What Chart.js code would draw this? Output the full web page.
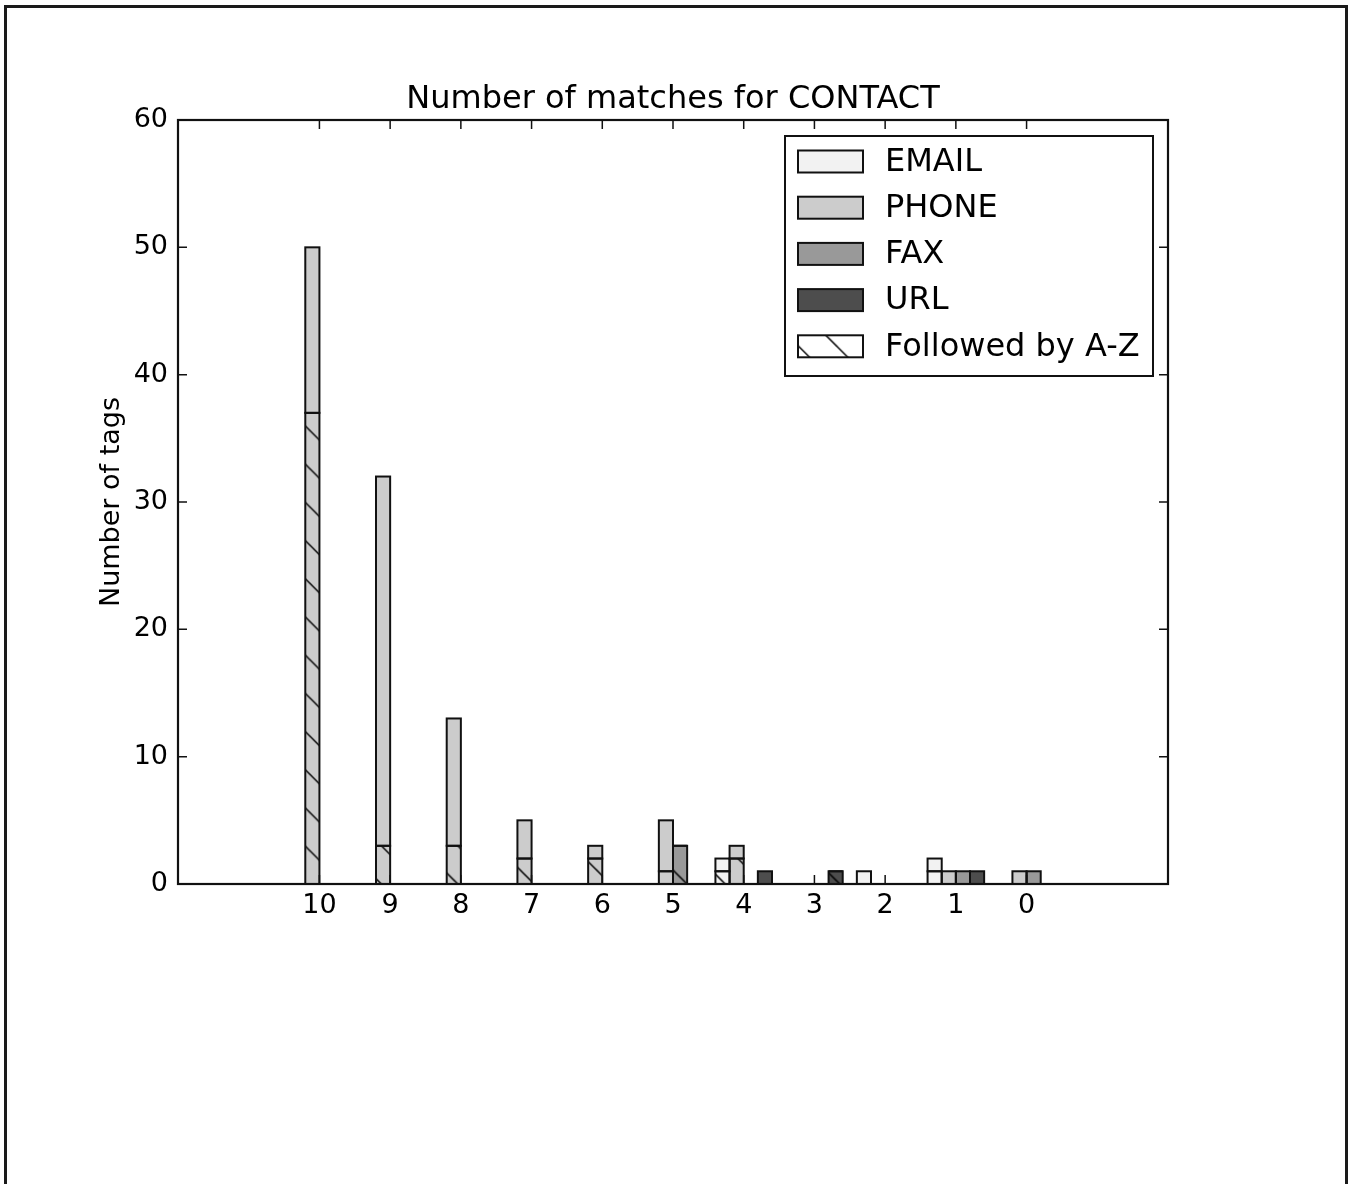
<!DOCTYPE html>
<html>
<head>
<meta charset="utf-8">
<title>Number of matches for CONTACT</title>
<script src="https://cdn.jsdelivr.net/npm/chart.js@4.4.1/dist/chart.umd.min.js"></script>
<style>
  html, body { margin: 0; padding: 0; background: #fff; }
  #wrap { position: absolute; left: 0; top: 0; width: 1355px; height: 1184px; }
  #frame {
    position: absolute; left: 4px; top: 5px; width: 1338px; height: 1200px;
    border: 3px solid #1a1a1a; border-bottom: none; pointer-events: none;
  }
</style>
</head>
<body>
<div id="wrap"><canvas id="chart"></canvas></div>
<div id="frame"></div>
<script>
// x categories (score buckets, highest first)
const categories = ['10', '9', '8', '7', '6', '5', '4', '3', '2', '1', '0'];
const yTicks = [0, 10, 20, 30, 40, 50, 60];

// total tags per bucket
const emailTotal = [0, 0, 0, 0, 0, 0, 2, 0, 1, 2, 0];
const phoneTotal = [50, 32, 13, 5, 3, 5, 3, 0, 0, 1, 1];
const faxTotal   = [0, 0, 0, 0, 0, 3, 0, 0, 0, 1, 1];
const urlTotal   = [0, 0, 0, 0, 0, 0, 1, 1, 0, 1, 0];

// of those, tags followed by A-Z (hatched part)
const emailAZ = [0, 0, 0, 0, 0, 0, 1, 0, 0, 1, 0];
const phoneAZ = [37, 3, 3, 2, 2, 1, 2, 0, 0, 0, 0];
const faxAZ   = [0, 0, 0, 0, 0, 3, 0, 0, 0, 0, 0];
const urlAZ   = [0, 0, 0, 0, 0, 0, 0, 1, 0, 0, 0];

const seriesNames = ['EMAIL', 'PHONE', 'FAX', 'URL'];
const seriesColors = ['#f2f2f2', '#cccccc', '#999999', '#4d4d4d'];
const hatchLabel = 'Followed by A-Z';

const totals = [emailTotal, phoneTotal, faxTotal, urlTotal];
const followed = [emailAZ, phoneAZ, faxAZ, urlAZ];

const FONT = "'DejaVu Sans', 'Liberation Sans', sans-serif";
const INK = '#111';

// back-slash hatch on top of a fill colour, repeating in canvas space
function hatch(color) {
  const size = 38;
  const tile = document.createElement('canvas');
  tile.width = size; tile.height = size;
  const t = tile.getContext('2d');
  t.fillStyle = color;
  t.fillRect(0, 0, size, size);
  t.strokeStyle = '#000';
  t.lineWidth = 1.5;
  for (let k = -2; k <= 1; k++) {
    t.beginPath();
    t.moveTo(-size, -size + 6 + k * size);
    t.lineTo(2 * size, 2 * size + 6 + k * size);
    t.stroke();
  }
  const p = t.createPattern(tile, 'repeat');
  if (p.setTransform) p.setTransform(new DOMMatrix().scale(38.2 / size));
  return p;
}

const datasets = [];
seriesNames.forEach((name, s) => {
  datasets.push({
    label: name + ' A-Z',
    stack: name,
    data: followed[s].map((v, i) => ({ x: i, y: v })),
    backgroundColor: hatch(seriesColors[s]),
    borderWidth: 0
  });
  datasets.push({
    label: name,
    stack: name,
    data: totals[s].map((v, i) => ({ x: i, y: v - followed[s][i] })),
    backgroundColor: seriesColors[s],
    borderWidth: 0
  });
});

// bar outlines, centred on the edges
const barEdges = {
  id: 'barEdges',
  afterDatasetsDraw(chart) {
    const ctx = chart.ctx;
    ctx.save();
    ctx.strokeStyle = INK;
    ctx.lineWidth = 2;
    chart.data.datasets.forEach((ds, di) => {
      const meta = chart.getDatasetMeta(di);
      meta.data.forEach(el => {
        const { x, y, base, width } = el.getProps(['x', 'y', 'base', 'width'], true);
        const top = Math.min(y, base);
        ctx.strokeRect(x - width / 2, top, width, Math.abs(base - y));
      });
    });
    ctx.restore();
  }
};

// axes box, inward ticks on all four sides, and the legend
const frameAndLegend = {
  id: 'frameAndLegend',
  afterDraw(chart) {
    const ctx = chart.ctx;
    const a = chart.chartArea;
    const xs = chart.scales.x, ys = chart.scales.y;
    ctx.save();
    ctx.strokeStyle = INK;
    ctx.lineWidth = 2.2;
    ctx.strokeRect(a.left, a.top, a.right - a.left, a.bottom - a.top);

    ctx.lineWidth = 1.5;
    const len = 9;
    ctx.beginPath();
    categories.forEach((c, i) => {
      const px = xs.getPixelForValue(i);
      ctx.moveTo(px, a.bottom); ctx.lineTo(px, a.bottom - len);
      ctx.moveTo(px, a.top); ctx.lineTo(px, a.top + len);
    });
    yTicks.forEach(v => {
      const py = ys.getPixelForValue(v);
      ctx.moveTo(a.left, py); ctx.lineTo(a.left + len, py);
      ctx.moveTo(a.right, py); ctx.lineTo(a.right - len, py);
    });
    ctx.stroke();

    // legend
    const box = { x: 785, y: 136, w: 368, h: 240 };
    ctx.fillStyle = '#fff';
    ctx.fillRect(box.x, box.y, box.w, box.h);
    ctx.lineWidth = 2;
    ctx.strokeRect(box.x, box.y, box.w, box.h);
    const items = seriesNames.map((n, s) => ({ text: n, fill: seriesColors[s] }));
    items.push({ text: hatchLabel, fill: hatch('#ffffff') });
    ctx.font = '32px ' + FONT;
    ctx.textBaseline = 'middle';
    items.forEach((it, k) => {
      const cy = 161.5 + k * 46.2;
      ctx.fillStyle = it.fill;
      ctx.fillRect(798, cy - 11, 65, 22);
      ctx.lineWidth = 2;
      ctx.strokeStyle = INK;
      ctx.strokeRect(798, cy - 11, 65, 22);
      ctx.fillStyle = '#000';
      ctx.fillText(it.text, 885, cy + 1);
    });
    ctx.restore();
  }
};

new Chart(document.getElementById('chart'), {
  type: 'bar',
  data: { datasets },
  plugins: [barEdges, frameAndLegend],
  options: {
    responsive: true,
    maintainAspectRatio: false,
    animation: false,
    devicePixelRatio: 1,
    categoryPercentage: 0.8,
    barPercentage: 1.0,
    layout: { padding: { left: 0, right: 9, top: 0, bottom: 0 } },
    plugins: {
      legend: { display: false },
      tooltip: { enabled: false },
      title: {
        display: true,
        text: 'Number of matches for CONTACT',
        color: '#000',
        font: { family: FONT, size: 32, weight: 'normal', lineHeight: 1.2 },
        padding: { top: 80.8, bottom: 0.8 }
      }
    },
    scales: {
      x: {
        type: 'linear',
        min: -2,
        max: 12,
        offset: false,
        grid: { display: false, drawTicks: false, offset: false },
        border: { display: false },
        ticks: {
          stepSize: 1,
          autoSkip: false,
          maxRotation: 0,
          padding: 6,
          color: '#000',
          font: { family: FONT, size: 27 },
          callback: v => (Number.isInteger(v) && categories[v] !== undefined) ? categories[v] : ''
        },
        afterFit: s => { s.height = 300; }
      },
      y: {
        stacked: true,
        min: 0,
        max: 60,
        grid: { display: false, drawTicks: false },
        border: { display: false },
        ticks: {
          stepSize: 10,
          padding: 10,
          color: '#000',
          font: { family: FONT, size: 27 }
        },
        title: {
          display: true,
          text: 'Number of tags',
          color: '#000',
          font: { family: FONT, size: 27, lineHeight: 1.2 },
          padding: { top: 95.8, bottom: 0 }
        },
        afterFit: s => { s.width = 178; }
      },
      y2: {
        type: 'linear',
        position: 'right',
        grid: { display: false, drawTicks: false },
        border: { display: false },
        ticks: { display: false },
        afterFit: s => { s.width = 178; }
      }
    }
  }
});
</script>
</body>
</html>
